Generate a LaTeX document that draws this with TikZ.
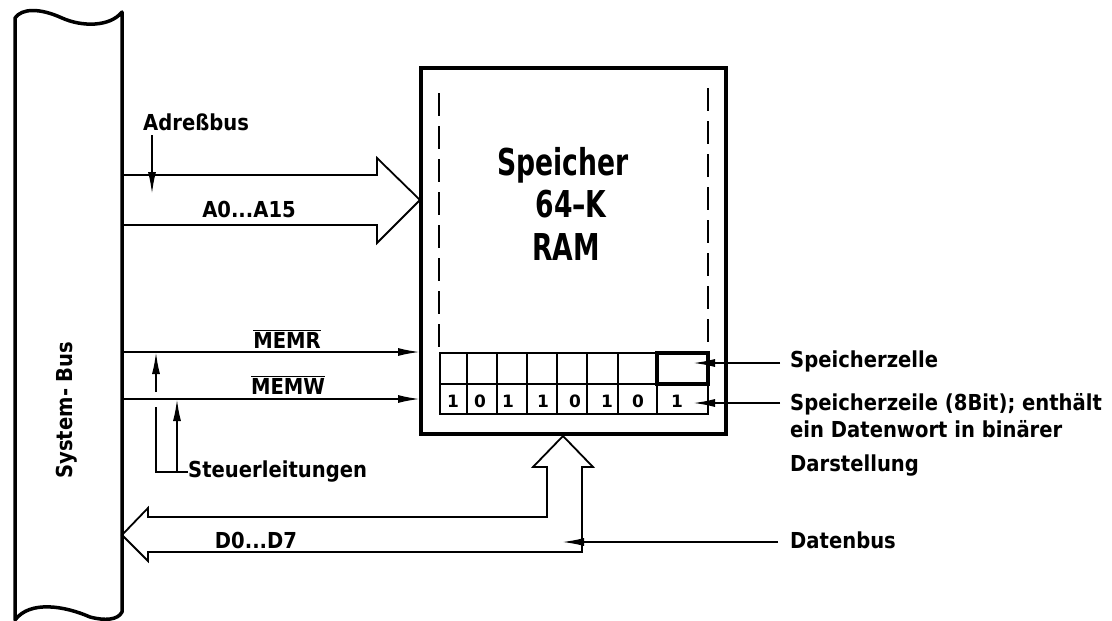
\documentclass[tikz,border=0pt]{standalone}
\usepackage{fontspec}
\setmainfont{DejaVu Sans}
\newfontfamily\bigfont[FakeStretch=0.72]{DejaVu Sans}
\newfontfamily\lblfont[FakeStretch=0.89]{DejaVu Sans}
\usetikzlibrary{arrows.meta}
\begin{document}
\begin{tikzpicture}[x=1pt,y=-1pt,
  busline/.style={line width=3.5pt,line join=round,line cap=round},
  boxline/.style={line width=3.5pt,line join=miter},
  thinline/.style={line width=1.8pt,line join=miter},
  cellline/.style={line width=1.8pt},
  arr/.style={line width=1.8pt,-{Latex[length=22pt,width=8pt]}},
  dashline/.style={line width=1.8pt,dash pattern=on 23pt off 10pt},
  lbl/.style={inner sep=0pt,font=\lblfont\bfseries\fontsize{22}{26}\selectfont},
  biglbl/.style={inner sep=0pt,font=\bigfont\bfseries\fontsize{37}{42}\selectfont},
  digit/.style={inner sep=0pt,font=\bfseries\fontsize{17}{20}\selectfont}]
\useasboundingbox (0,0) rectangle (1112,621);
\fill[white] (0,0) rectangle (1112,621);

% ---------- System bus ----------
\draw[busline] (15,620) -- (15,18)
  .. controls (22,8) and (40,8) .. (62,18)
  .. controls (82,27) and (110,27) .. (122,12)
  -- (122,612)
  .. controls (118,620) and (105,621) .. (90,617)
  .. controls (65,606) and (30,600) .. (15,620);
\node[lbl,rotate=90] (sysbus) at (67,410) {System- Bus};

% ---------- Memory box ----------
\draw[boxline] (421,68) rectangle (726,434);
\draw[dashline] (439,93) -- (439,353);
\draw[dashline] (708,88) -- (708,353);
\node[biglbl,anchor=base] (t1) at (563,175) {Speicher};
\node[biglbl,anchor=base] (t2) at (571,217) {64–K};
\node[biglbl,anchor=base] (t3) at (566,260) {RAM};

% cells
\draw[cellline] (440,353) rectangle (708,414);
\draw[cellline] (440,384) -- (708,384);
\foreach \x in {467,497,527,557,587,618,657}
  \draw[cellline] (\x,353) -- (\x,414);
\draw[line width=3.2pt] (657,353) rectangle (708,384);
\foreach \x/\d [count=\i] in {453/1,480/0,508/1,543/1,575/0,607/1,638/0,677/1}
  \node[digit,anchor=base] (d\i) at (\x,407) {\d};

% ---------- Address bus ----------
\draw[thinline] (122,175) -- (377,175) -- (377,158) -- (420,200)
  -- (377,243) -- (377,225) -- (122,225);
\node[lbl,anchor=base west] (adr) at (143,130) {Adreßbus};
\coordinate (adrA) at (152,135);
\coordinate (adrB) at (152,194);
\draw[arr] (adrA) -- (adrB);
\node[lbl,anchor=base] (a015) at (249,217) {A0...A15};

% ---------- Control lines ----------
\coordinate (memrS) at (122,352);
\coordinate (memrE) at (420,352);
\coordinate (memwS) at (122,399);
\coordinate (memwE) at (420,399);
\draw[arr] (memrS) -- (memrE);
\draw[arr] (memwS) -- (memwE);
\node[lbl,anchor=base] (memr) at (287,348) {$\overline{\hbox{MEMR}}$};
\node[lbl,anchor=base] (memw) at (288,394) {$\overline{\hbox{MEMW}}$};
\node[lbl,anchor=base west] (steuer) at (188,477) {Steuerleitungen};
\coordinate (s1a) at (156,472);
\coordinate (s1b) at (156,407);
\coordinate (s1c) at (156,392);
\coordinate (s1d) at (156,352);
\coordinate (s2a) at (177,472);
\coordinate (s2b) at (177,399);
\draw[thinline] (steuer.west |- s1a) -- (s1a) -- (s1b);
\draw[arr] (s1c) -- (s1d);
\draw[arr] (s2a) -- (s2b);

% ---------- Data bus ----------
\draw[thinline] (122,535) -- (148,508) -- (148,517) -- (547,517) -- (547,467)
  -- (533,467) -- (563,436) -- (593,467) -- (582,467) -- (582,552)
  -- (148,552) -- (148,561) -- cycle;
\node[lbl,anchor=base] (d07) at (256,548) {D0...D7};

% ---------- Right labels ----------
\node[lbl,anchor=base west] (szelle) at (790,367) {Speicherzelle};
\node[lbl,anchor=base west] (szeile) at (790,410) {Speicherzeile (8Bit); enthält};
\node[lbl,anchor=base west] (szeile2) at (790,437) {ein Datenwort in binärer};
\node[lbl,anchor=base west] (szeile3) at (790,471) {Darstellung};
\node[lbl,anchor=base west] (dbus) at (790,548) {Datenbus};
\coordinate (zelleS) at (780,363);
\coordinate (zelleE) at (693,363);
\coordinate (zeileS) at (780,403);
\coordinate (zeileE) at (693,403);
\coordinate (dbusS) at (778,542);
\coordinate (dbusE) at (562,542);
\draw[arr] (zelleS) -- (zelleE);
\draw[arr] (zeileS) -- (zeileE);
\draw[arr] (dbusS) -- (dbusE);
\end{tikzpicture}
\end{document}
